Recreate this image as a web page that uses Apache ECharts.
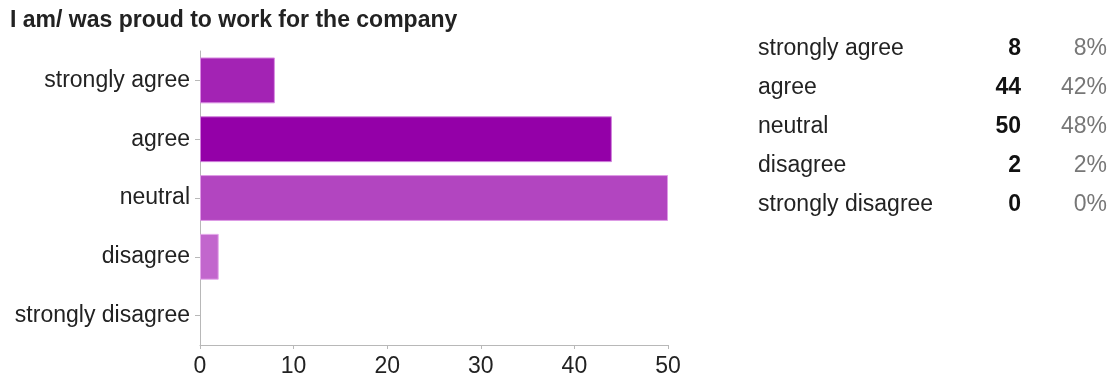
<!DOCTYPE html>
<html>
<head>
<meta charset="utf-8">
<script src="https://cdn.jsdelivr.net/npm/echarts@6/dist/echarts.min.js"></script>
<style>
  html, body { margin: 0; padding: 0; background: #fff; }
  #chart { width: 1117px; height: 378px; }
</style>
</head>
<body>
<div id="chart"></div>
<script>
// Survey question and answers
const titleText = 'I am/ was proud to work for the company';
const categories = ['strongly agree', 'agree', 'neutral', 'disagree', 'strongly disagree'];
const counts = [8, 44, 50, 2, 0];
const barColors = ['#a323b4', '#9400a8', '#b245c0', '#c266cd', '#d08ad8'];
const barEdges = ['#d98fe2', '#cf80db', '#de9be6', '#e4a9ea', '#ecc4f0'];
const xTicks = [0, 10, 20, 30, 40, 50];

const FONT = '"Liberation Sans", Arial, sans-serif';
const total = counts.reduce((a, b) => a + b, 0);
const percents = counts.map(v => Math.round(v / total * 100) + '%');

const chart = echarts.init(document.getElementById('chart'), null, { renderer: 'canvas' });

// Summary table on the right: label, count (bold), percent (grey)
const tableRows = [];
categories.forEach((name, i) => {
  const y = 49 + i * 39;
  tableRows.push({
    type: 'text', left: 758, top: y - 12,
    style: { text: name, font: '23px ' + FONT, fill: '#222' }
  });
  tableRows.push({
    type: 'text', right: 1117 - 1021, top: y - 12,
    style: { text: String(counts[i]), font: 'bold 23px ' + FONT, fill: '#111', textAlign: 'right' }
  });
  tableRows.push({
    type: 'text', right: 1117 - 1107, top: y - 12,
    style: { text: percents[i], font: '23px ' + FONT, fill: '#777', textAlign: 'right' }
  });
});

chart.setOption({
  animation: false,
  backgroundColor: '#fff',
  title: {
    text: titleText,
    left: 10,
    top: 9,
    padding: 0,
    textStyle: { fontFamily: FONT, fontSize: 23, fontWeight: 'bold', color: '#222' }
  },
  grid: { left: 200, right: 449, top: 51, bottom: 32, containLabel: false },
  xAxis: {
    type: 'value',
    min: 0,
    max: 50,
    interval: 10,
    axisLine: { show: true, lineStyle: { color: '#b8b8b8', width: 1 } },
    axisTick: { show: true, length: 4, lineStyle: { color: '#b8b8b8' } },
    splitLine: { show: false },
    axisLabel: {
      margin: 10,
      fontFamily: FONT, fontSize: 23, color: '#222',
      formatter: v => (xTicks.indexOf(v) >= 0 ? String(v) : '')
    }
  },
  yAxis: {
    type: 'category',
    data: categories,
    inverse: true,
    axisLine: { show: true, lineStyle: { color: '#b8b8b8', width: 1 } },
    axisTick: { show: true, alignWithLabel: true, length: 5, lineStyle: { color: '#b8b8b8' } },
    axisLabel: { margin: 10, fontFamily: FONT, fontSize: 23, color: '#222' },
    splitLine: { show: false }
  },
  series: [{
    type: 'bar',
    barWidth: '78%',
    data: counts.map((v, i) => ({
      value: v,
      itemStyle: { color: barColors[i], borderColor: barEdges[i], borderWidth: v > 0 ? 1 : 0 }
    }))
  }],
  graphic: tableRows
});
</script>
</body>
</html>
